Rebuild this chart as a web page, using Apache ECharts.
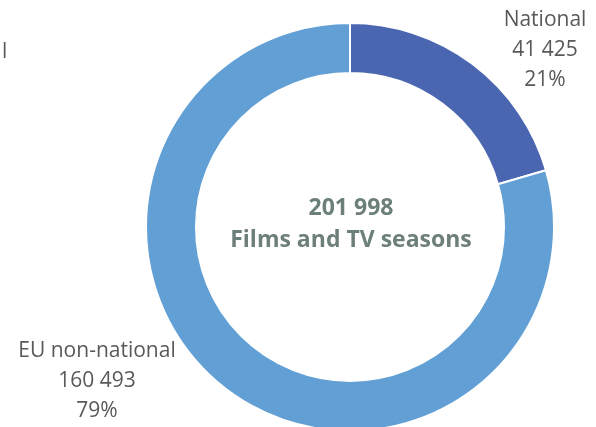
<!DOCTYPE html>
<html>
<head>
    <meta charset="utf-8">
    <title>Films and TV seasons</title>
    <script src="https://cdn.jsdelivr.net/npm/echarts@6/dist/echarts.min.js"></script>
    <style>
        * { margin: 0; padding: 0 }
        html, body { background: #fff; }
        #main { width: 596px; height: 427px; }
    </style>
</head>
<body>
<div id="main"></div>
<script>
    // data
    var categories = ["National", "EU non-national"];
    var values = [41425, 160493];
    var totalLabel = "201 998";
    var centerTitle = "Films and TV seasons";
    var colors = ["#4a66b0", "#619fd5"];

    function fmt(n) {
        return String(n).replace(/\B(?=(\d{3})+(?!\d))/g, " ");
    }

    var total = values.reduce(function (a, b) { return a + b; }, 0);
    var pieData = [];
    for (var i = 0; i < categories.length; i++) {
        pieData.push({ name: categories[i], value: values[i], itemStyle: { color: colors[i] } });
    }

    // where each label sits (center of text block)
    var labelPos = [
        { x: 545, y: 50 },
        { x: 97, y: 381 }
    ];

    var chart = echarts.init(document.getElementById("main"));
    chart.setOption({
        animation: false,
        series: [{
            type: "pie",
            center: [350, 227],
            radius: [154, 204],
            startAngle: 90,
            clockwise: true,
            data: pieData,
            itemStyle: { borderColor: "#fff", borderWidth: 2 },
            labelLine: { show: false },
            label: {
                show: true,
                position: "outside",
                overflow: "none",
                fontFamily: "Open Sans",
                fontSize: 21,
                lineHeight: 30,
                color: "#595959",
                align: "center",
                formatter: function (p) {
                    return p.name + "\n" + fmt(p.value) + "\n" + Math.round(p.value / total * 100) + "%";
                }
            },
            labelLayout: function (params) {
                var pos = labelPos[params.dataIndex];
                return {
                    x: pos.x,
                    y: pos.y,
                    align: "center",
                    verticalAlign: "middle"
                };
            }
        }],
        graphic: [
            {
                type: "text", x: 351, y: 208,
                style: {
                    text: totalLabel, fill: "#6d7f7a", fontFamily: "Open Sans", fontWeight: "bold",
                    fontSize: 23, align: "center", verticalAlign: "middle"
                }
            },
            {
                type: "text", x: 351, y: 240,
                style: {
                    text: centerTitle, fill: "#6d7f7a", fontFamily: "Open Sans", fontWeight: "bold",
                    fontSize: 23, align: "center", verticalAlign: "middle"
                }
            },
            {
                type: "text", x: 2, y: 52,
                style: {
                    text: "l", fill: "#595959", fontFamily: "Open Sans",
                    fontSize: 21, align: "left", verticalAlign: "middle"
                }
            }
        ]
    });
</script>
</body>
</html>
